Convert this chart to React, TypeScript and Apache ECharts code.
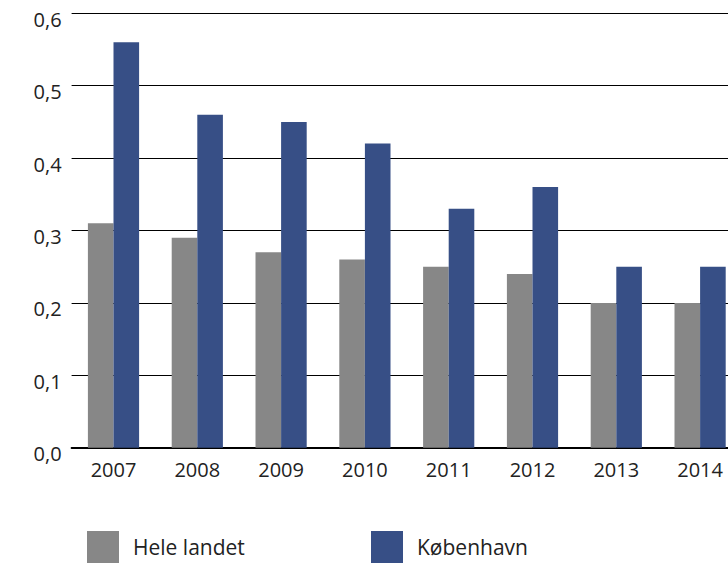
import React, { useEffect, useRef } from "react";
import * as echarts from "echarts";

const years = ["2007", "2008", "2009", "2010", "2011", "2012", "2013", "2014"];
const heleLandet = [0.31, 0.29, 0.27, 0.26, 0.25, 0.24, 0.2, 0.2];
const koebenhavn = [0.56, 0.46, 0.45, 0.42, 0.33, 0.36, 0.25, 0.25];
const seriesNames = ["Hele landet", "København"];
const colors = ["#878787", "#374f86"];

const FONT = "'Open Sans', sans-serif";
const TEXT = "#222222";

export default function App() {
  const ref = useRef<HTMLDivElement>(null);
  useEffect(() => {
    if (!ref.current) return;
    const chart = echarts.init(ref.current, undefined, { renderer: "svg" });
    chart.setOption({
      animation: false,
      backgroundColor: "#ffffff",
      grid: { left: 71.6, right: 0, top: 13.3, bottom: 152.3, containLabel: false },
      legend: [
        {
          data: [seriesNames[0]],
          left: 87,
          top: 531,
          padding: 0,
          itemWidth: 32,
          itemHeight: 32,
          icon: "rect",
          textStyle: { fontFamily: FONT, fontSize: 21, color: TEXT, padding: [4, 0, 0, 9] },
        },
        {
          data: [seriesNames[1]],
          left: 371,
          top: 531,
          padding: 0,
          itemWidth: 32,
          itemHeight: 32,
          icon: "rect",
          textStyle: { fontFamily: FONT, fontSize: 21, color: TEXT, padding: [4, 0, 0, 9] },
        },
      ],
      xAxis: {
        type: "category",
        data: years,
        axisTick: { show: false },
        axisLine: { show: true, lineStyle: { color: "#000000", width: 2 } },
        axisLabel: { fontFamily: FONT, fontSize: 20, color: TEXT, margin: 12 },
      },
      yAxis: {
        type: "value",
        min: 0,
        max: 0.6,
        interval: 0.1,
        axisLine: { show: false },
        axisTick: { show: false },
        splitLine: { show: true, lineStyle: { color: "#000000", width: 1 } },
        axisLabel: {
          fontFamily: FONT,
          fontSize: 20,
          color: TEXT,
          margin: 10,
          verticalAlign: "top",
          lineHeight: 12,
          formatter: (v: number) => v.toFixed(1).replace(".", ","),
        },
      },
      series: [
        {
          name: seriesNames[0],
          type: "bar",
          data: heleLandet,
          barWidth: 25.6,
          barGap: "0%",
          itemStyle: { color: colors[0] },
        },
        {
          name: seriesNames[1],
          type: "bar",
          data: koebenhavn,
          barWidth: 25.6,
          barGap: "0%",
          itemStyle: { color: colors[1] },
        },
      ],
    });
    return () => chart.dispose();
  }, []);
  return (
    <div
      ref={ref}
      style={{ position: "fixed", left: 0, top: 0, width: 742.3, height: 600 }}
    />
  );
}
